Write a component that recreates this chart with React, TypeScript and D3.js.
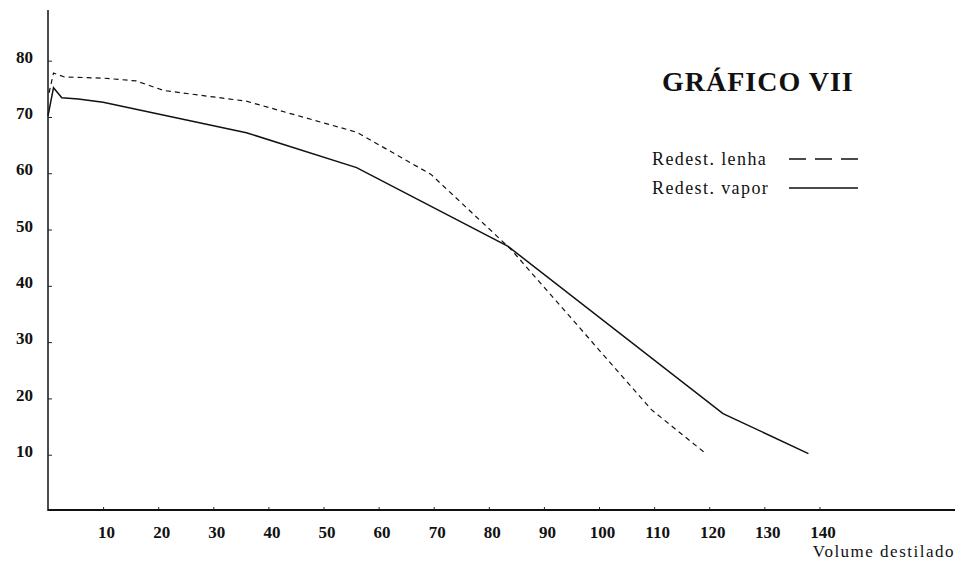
import React, { useEffect, useRef } from "react";
import * as d3 from "d3";

const width = 961;
const height = 567;

// volume destilado (x) vs value (y), read from the plate
const vaporX = [0, 1, 2.5, 5.5, 10, 36, 56, 83.5, 122.5, 138];
const vaporY = [70.2, 75.2, 73.4, 73.2, 72.6, 67.2, 61, 47, 17.3, 10.2];

const lenhaX = [0.2, 1, 3, 10, 16, 21, 36, 56, 69.5, 84, 109.5, 119];
const lenhaY = [74.3, 77.8, 77.1, 76.9, 76.4, 74.7, 72.8, 67.3, 59.8, 46.5, 18, 10.5];

const xTicks = [10, 20, 30, 40, 50, 60, 70, 80, 90, 100, 110, 120, 130, 140];
const yTicks = [10, 20, 30, 40, 50, 60, 70, 80];

const title = "GRÁFICO VII";
const legendLabels = ["Redest. lenha", "Redest. vapor"];
const xLabel = "Volume destilado";

const font = "'Liberation Serif', 'DejaVu Serif', serif";

const xScale = d3.scaleLinear().domain([0, 164.6]).range([48, 955]);
const yScale = d3.scaleLinear().domain([0, 89]).range([511, 10]);

const line = d3
  .line<[number, number]>()
  .x(d => xScale(d[0]))
  .y(d => yScale(d[1]));

const vapor: [number, number][] = vaporX.map((x, i) => [x, vaporY[i]]);
const lenha: [number, number][] = lenhaX.map((x, i) => [x, lenhaY[i]]);

export default function App() {
  const xAxisRef = useRef<SVGGElement>(null);
  const yAxisRef = useRef<SVGGElement>(null);

  useEffect(() => {
    const xAxis = d3
      .axisBottom(xScale)
      .tickValues(xTicks)
      .tickSize(-3)
      .tickPadding(16)
      .tickFormat(d3.format("d"));
    const gx = d3.select(xAxisRef.current!).call(xAxis);
    gx.select(".domain").remove();
    gx.selectAll("text")
      .attr("font-family", font)
      .attr("font-size", 17)
      .attr("font-weight", "bold")
      .attr("fill", "#111")
      .attr("dx", 3);
    gx.selectAll("line").attr("stroke", "#222");

    const yAxis = d3
      .axisLeft(yScale)
      .tickValues(yTicks)
      .tickSize(-4)
      .tickPadding(15)
      .tickFormat(d3.format("d"));
    const gy = d3.select(yAxisRef.current!).call(yAxis);
    gy.select(".domain").remove();
    gy.selectAll("text")
      .attr("font-family", font)
      .attr("font-size", 17)
      .attr("font-weight", "bold")
      .attr("fill", "#111")
      .attr("dy", "0.1em");
    gy.selectAll("line").attr("stroke", "#222");
  }, []);

  return (
    <svg
      width={width}
      height={height}
      style={{ position: "absolute", left: 0, top: 0, background: "#fff" }}
    >
      {/* axes lines */}
      <line x1={xScale(0)} x2={xScale(0)} y1={10} y2={yScale(0)} stroke="#111" strokeWidth={1.5} />
      <line x1={xScale(0)} x2={955} y1={yScale(0) - 1} y2={yScale(0) - 1} stroke="#111" strokeWidth={2} />
      <g ref={xAxisRef} transform={`translate(0, ${yScale(0) - 1})`} />
      <g ref={yAxisRef} transform={`translate(${xScale(0)}, 0)`} />

      <path d={line(lenha)!} fill="none" stroke="#111" strokeWidth={1.2} strokeDasharray="5 4" />
      <path d={line(vapor)!} fill="none" stroke="#111" strokeWidth={1.5} />

      <text
        x={662}
        y={91}
        fontFamily={font}
        fontSize={28}
        fontWeight="bold"
        letterSpacing={1}
        fill="#111"
      >
        {title}
      </text>

      {legendLabels.map((label, i) => (
        <g key={label}>
          <text
            x={652}
            y={165 + i * 29}
            fontFamily={font}
            fontSize={18}
            letterSpacing={1.4}
            fill="#111"
          >
            {label}
          </text>
          <line
            x1={789}
            x2={858}
            y1={159 + i * 29}
            y2={159 + i * 29}
            stroke="#111"
            strokeWidth={1.5}
            strokeDasharray={i === 0 ? "17 9" : undefined}
          />
        </g>
      ))}

      <text
        x={955}
        y={557}
        textAnchor="end"
        fontFamily={font}
        fontSize={17}
        letterSpacing={1.5}
        fill="#111"
      >
        {xLabel}
      </text>
    </svg>
  );
}
